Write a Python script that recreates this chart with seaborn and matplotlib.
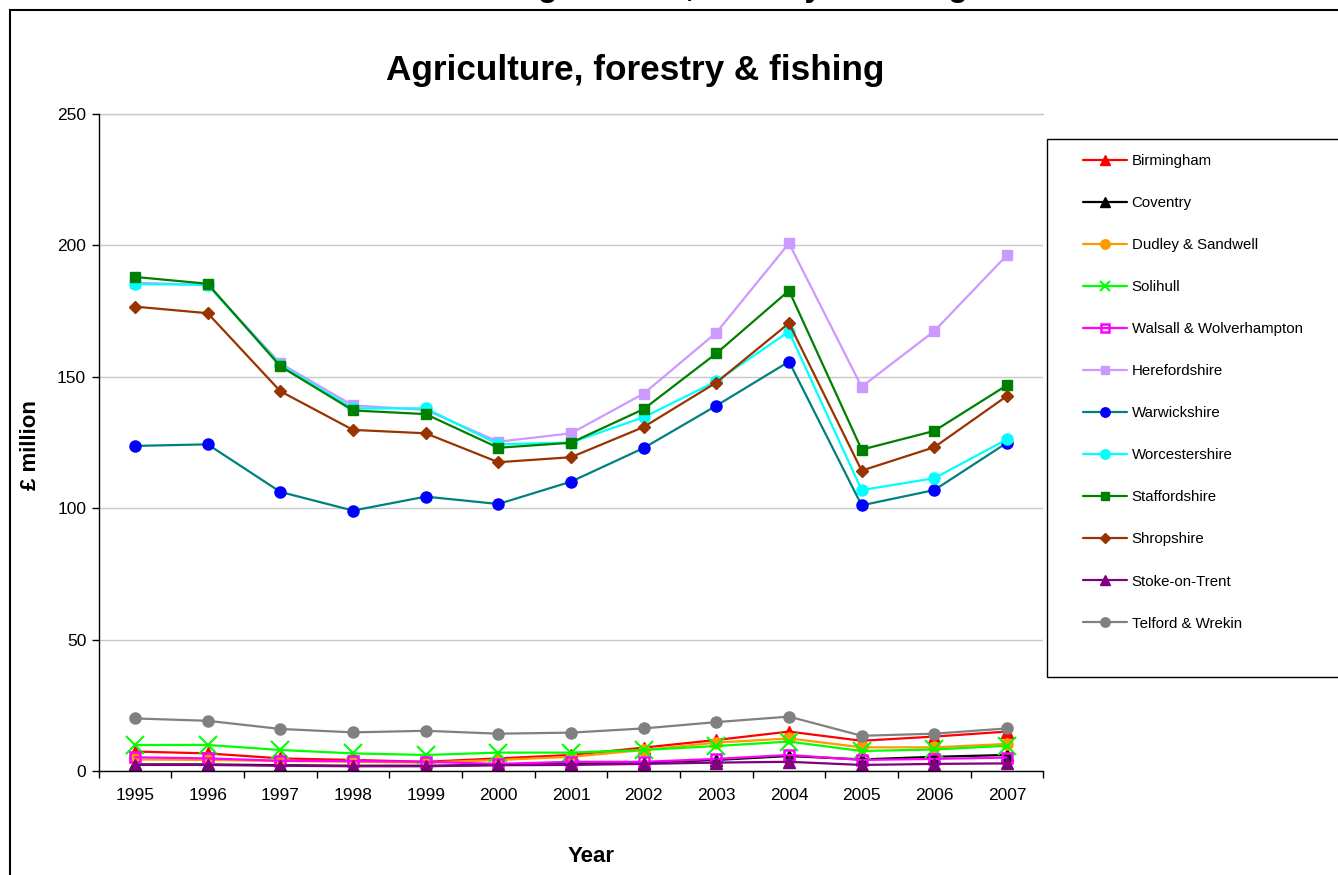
import numpy as np
import pandas as pd
import matplotlib
matplotlib.use("Agg")
import matplotlib.pyplot as plt
import seaborn as sns
from matplotlib.patches import Rectangle
from matplotlib.lines import Line2D

# ---------------- data ----------------
years = [1995, 1996, 1997, 1998, 1999, 2000, 2001, 2002, 2003, 2004, 2005, 2006, 2007]

birmingham = [7.4, 6.7, 4.8, 4.2, 3.5, 4.8, 6.1, 8.9, 11.8, 15.0, 11.5, 13.1, 15.0]
coventry = [2.5, 2.5, 2.2, 2.0, 2.0, 2.3, 2.8, 3.2, 4.2, 5.7, 4.4, 5.4, 6.1]
dudley_sandwell = [4.4, 4.2, 3.8, 3.5, 3.2, 4.2, 5.4, 8.0, 10.8, 12.4, 9.0, 9.0, 10.3]
solihull = [9.9, 9.9, 8.0, 6.7, 6.1, 7.0, 7.0, 8.0, 9.5, 11.2, 7.6, 8.2, 9.6]
walsall_wolverhampton = [5.2, 4.8, 3.9, 3.8, 3.5, 2.7, 3.5, 3.5, 4.6, 6.1, 4.2, 4.6, 5.1]
herefordshire = [185.8, 184.9, 155.1, 139.1, 137.4, 125.3, 128.5, 143.6, 166.8, 200.8, 146.2, 167.4, 196.3]
warwickshire = [123.7, 124.3, 106.2, 99.1, 104.4, 101.6, 110.1, 122.9, 139.0, 155.8, 101.1, 106.9, 124.9]
worcestershire = [185.3, 185.0, 154.5, 138.0, 138.0, 124.3, 125.0, 134.6, 148.3, 167.2, 106.9, 111.4, 126.2]
staffordshire = [188.0, 185.4, 154.0, 137.2, 135.8, 123.0, 124.9, 137.7, 158.9, 182.8, 122.3, 129.4, 146.8]
shropshire = [176.7, 174.2, 144.5, 129.8, 128.5, 117.5, 119.4, 130.9, 147.8, 170.4, 114.3, 123.2, 142.7]
stoke_on_trent = [2.3, 2.3, 2.0, 1.8, 1.8, 2.2, 2.3, 2.7, 3.2, 3.5, 2.3, 2.7, 2.9]
telford_wrekin = [20.0, 19.1, 16.0, 14.7, 15.3, 14.2, 14.6, 16.2, 18.6, 20.7, 13.4, 14.2, 16.2]

y_ticks = [0, 50, 100, 150, 200, 250]
title = "Agriculture, forestry & fishing"

# ---------------- styling ----------------
sns.set_theme(style="white")
plt.rcParams["font.family"] = ["Liberation Sans", "DejaVu Sans"]
plt.rcParams["text.color"] = "black"
plt.rcParams["axes.labelcolor"] = "black"
plt.rcParams["xtick.color"] = "black"
plt.rcParams["ytick.color"] = "black"

series = [
    ("Birmingham", birmingham, dict(color="#FF0000", marker="^", ms=8.5, mfc="#FF0000", mec="#FF0000", mew=1)),
    ("Coventry", coventry, dict(color="#000000", marker="^", ms=8.5, mfc="#000000", mec="#000000", mew=1)),
    ("Dudley & Sandwell", dudley_sandwell, dict(color="#FF9900", marker="o", ms=8, mfc="#FF9900", mec="#FF9900", mew=1)),
    ("Solihull", solihull, dict(color="#00FF00", marker="x", ms=13, mfc="#00FF00", mec="#00FF00", mew=1.5)),
    ("Walsall & Wolverhampton", walsall_wolverhampton, dict(color="#FF00FF", marker="s", ms=7, mfc="none", mec="#FF00FF", mew=1.8)),
    ("Herefordshire", herefordshire, dict(color="#CC99FF", marker="s", ms=7, mfc="#CC99FF", mec="#CC99FF", mew=1)),
    ("Warwickshire", warwickshire, dict(color="#008080", marker="o", ms=8, mfc="#0000FF", mec="#0000FF", mew=1)),
    ("Worcestershire", worcestershire, dict(color="#00FFFF", marker="o", ms=8, mfc="#00FFFF", mec="#00FFFF", mew=1)),
    ("Staffordshire", staffordshire, dict(color="#008000", marker="s", ms=7.5, mfc="#008000", mec="#008000", mew=1)),
    ("Shropshire", shropshire, dict(color="#993300", marker="D", ms=6.5, mfc="#993300", mec="#993300", mew=1)),
    ("Stoke-on-Trent", stoke_on_trent, dict(color="#800080", marker="^", ms=8.5, mfc="#800080", mec="#800080", mew=1)),
    ("Telford & Wrekin", telford_wrekin, dict(color="#808080", marker="o", ms=8, mfc="#808080", mec="#808080", mew=1)),
]

fig = plt.figure(figsize=(13.38, 8.75), dpi=100)
fig.patch.set_facecolor("white")
W, H = 1338.0, 875.0
ax = fig.add_axes([98.7 / W, 1 - 771 / H, (1043.3 - 98.7) / W, (771 - 114) / H])

handles = []
for name, vals, st in series:
    df = pd.DataFrame({"Year": years, "value": vals})
    sns.lineplot(data=df, x="Year", y="value", ax=ax, color=st["color"], linewidth=1.6,
                 marker=st["marker"], markersize=st["ms"], markerfacecolor=st["mfc"],
                 markeredgecolor=st["mec"], markeredgewidth=st["mew"], legend=False)
    hm = st["ms"] * (0.6 if st["marker"] == "x" else 0.85)
    handles.append(Line2D([], [], color=st["color"], linewidth=1.6, marker=st["marker"],
                          markersize=hm, markerfacecolor=st["mfc"],
                          markeredgecolor=st["mec"], markeredgewidth=st["mew"], label=name))

ax.set_xlim(years[0] - 0.5, years[-1] + 0.5)
ax.set_ylim(0, 250)
ax.set_yticks(y_ticks)
ax.set_yticklabels([str(t) for t in y_ticks], fontsize=12.5)
ax.set_xticks(years)
ax.set_xticklabels([str(y) for y in years], fontsize=12.5)
ax.set_xticks([y - 0.5 for y in years] + [years[-1] + 0.5], minor=True)
ax.tick_params(axis="x", which="major", length=0, pad=12, colors="black")
ax.tick_params(axis="x", which="minor", length=5, width=1, direction="out", color="black", bottom=True)
ax.tick_params(axis="y", which="major", length=5, width=1, direction="out", pad=4, colors="black", left=True)
ax.set_xlabel("")
ax.set_ylabel("")

ax.yaxis.grid(True, color="#C8C8C8", linewidth=1.0)
ax.xaxis.grid(False)
ax.set_axisbelow(True)
for sp in ["top", "right"]:
    ax.spines[sp].set_visible(False)
for sp in ["left", "bottom"]:
    ax.spines[sp].set_color("black")
    ax.spines[sp].set_linewidth(1.0)
ax.set_facecolor("white")
ax.axhline(250, color="#C8C8C8", linewidth=1.0, clip_on=False, zorder=0)

# titles and labels
fig.text(635 / W, 1 - 80 / H, title, ha="center", va="baseline", fontsize=25.3, fontweight="bold")
fig.text(741 / W, 1 + 4 / H, title, ha="center", va="baseline", fontsize=23, fontweight="bold")
fig.text(591 / W, 1 - 862 / H, "Year", ha="center", va="baseline", fontsize=16, fontweight="bold")
fig.text(30 / W, 1 - 445 / H, "£ million", ha="center", va="center", rotation=90,
         fontsize=16, fontweight="bold")

# legend (frame drawn separately)
leg = fig.legend(handles=handles, loc="upper left", bbox_to_anchor=(1083 / W, 1 - 154 / H),
                 bbox_transform=fig.transFigure, frameon=False, fontsize=10.8, borderpad=0,
                 handlelength=2.9, handletextpad=0.35, labelspacing=1.87, borderaxespad=0)
fig.add_artist(Rectangle((1047 / W, 1 - 677 / H), (1338 - 1047 + 20) / W, (677 - 139) / H,
                         transform=fig.transFigure, fill=False, edgecolor="black", linewidth=1.0,
                         clip_on=False))

# outer chart-area border
fig.add_artist(Rectangle((10 / W, -0.2), 2.0, (1 - 10 / H) + 0.2, transform=fig.transFigure,
                         fill=False, edgecolor="black", linewidth=1.5, clip_on=False, zorder=-1))

fig.savefig("out.png", dpi=100, facecolor="white")
